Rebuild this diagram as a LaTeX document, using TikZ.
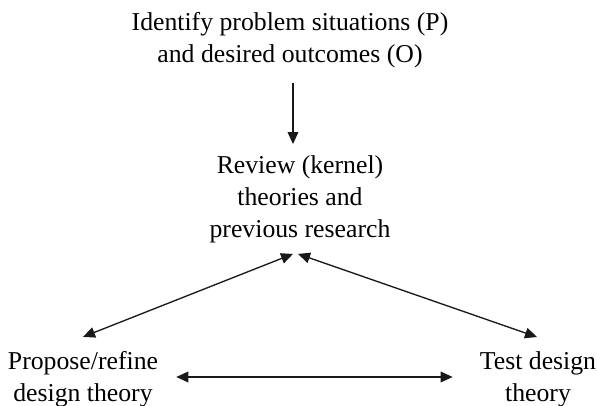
\documentclass[tikz,border=0pt]{standalone}
\usepackage{fontspec}
\setmainfont{Liberation Serif}
\usetikzlibrary{arrows.meta}

\begin{document}
\begin{tikzpicture}[x=0.75pt,y=-0.75pt,
  steptext/.style={align=center, inner sep=0pt, font=\fontsize{19.3}{24}\selectfont},
  flow/.style={black!90, line width=1pt, -{Triangle[length=9pt,width=8pt]}},
  twoway/.style={flow, {Triangle[length=9pt,width=8pt]}-{Triangle[length=9pt,width=8pt]}}]
\useasboundingbox (0,0) rectangle (597,406);
\node[steptext] (problem) at (290,40) {Identify problem situations (P)\\and desired outcomes (O)};
\node[steptext] (review) at (300,199) {Review (kernel)\\theories and\\previous research};
\node[steptext] (propose) at (83,379) {Propose/refine\\design theory};
\node[steptext] (test) at (538,379) {Test design\\theory};
% arrows between the steps
\draw[flow] ([shift={(3,15)}]problem.south) -- ([shift={(-7,-11)}]review.north);
\draw[twoway] ([shift={(-7,11)}]review.south) -- ([shift={(0,-14)}]propose.north);
\draw[twoway] ([shift={(-2,11)}]review.south) -- ([shift={(-1,-14)}]test.north);
\draw[twoway] ([shift={(18,-2)}]propose.east) -- ([shift={(-27,-2)}]test.west);
\end{tikzpicture}
\end{document}
